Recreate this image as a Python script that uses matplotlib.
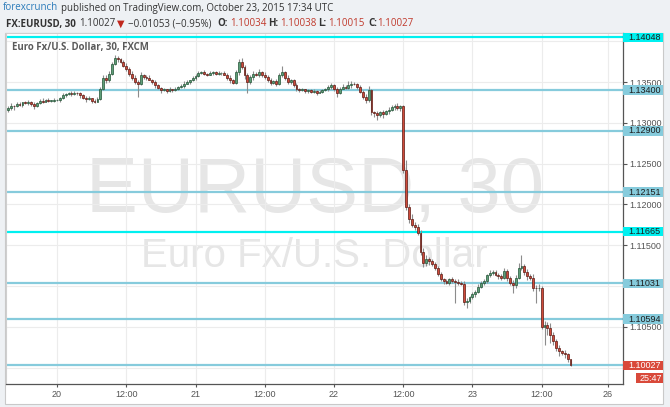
import matplotlib
matplotlib.use("Agg")
import matplotlib.pyplot as plt
from matplotlib.patches import Rectangle
from matplotlib.transforms import blended_transform_factory
import numpy as np

# ===============================
# Data: EURUSD 30 min candles, 19 Oct 15:30 -> 23 Oct 17:30 UTC
# x position = bar number counted from 20 Oct 00:00
# ===============================
bar_start = -17
first_open = 1.1316

closes = [
    1.1318, 1.1321, 1.1320, 1.1323, 1.1322, 1.1325, 1.1324, 1.1326, 1.1323,
    1.1321, 1.1324, 1.1327, 1.1326, 1.1328, 1.1327, 1.1327, 1.1328,
    1.1328, 1.1330, 1.1334, 1.1335, 1.1336, 1.1335, 1.1337, 1.1336, 1.1334,
    1.1331, 1.1329, 1.1330, 1.1327, 1.1326, 1.1329,
    1.1342, 1.1355, 1.1352, 1.1360,
    1.1372, 1.1380, 1.1378, 1.1375,
    1.1370, 1.1366, 1.1360, 1.1355,
    1.1350, 1.1348, 1.1358,
    1.1356, 1.1355, 1.1353, 1.1350, 1.1346,
    1.1343, 1.1340, 1.1341, 1.1339, 1.1341, 1.1340, 1.1342,
    1.1344, 1.1345, 1.1348, 1.1350, 1.1352, 1.1355, 1.1357, 1.1361,
    1.1362, 1.1360, 1.1359, 1.1361, 1.1362, 1.1360, 1.1361, 1.1361, 1.1359,
    1.1355, 1.1352, 1.1349,
    1.1362, 1.1375, 1.1368, 1.1358,
    1.1350,
    1.1356, 1.1360, 1.1358, 1.1362, 1.1359, 1.1356,
    1.1352, 1.1349, 1.1351, 1.1348,
    1.1358, 1.1362,
    1.1355, 1.1350, 1.1352, 1.1346, 1.1342,
    1.1340, 1.1341, 1.1339, 1.1340, 1.1338, 1.1339, 1.1337, 1.1338, 1.1340, 1.1341,
    1.1344, 1.1346, 1.1342, 1.1337,
    1.1342, 1.1344, 1.1343, 1.1346, 1.1348, 1.1347, 1.1344,
    1.1338, 1.1332, 1.1328, 1.1340,
    1.1313,
    1.1312, 1.1310, 1.1313, 1.1311, 1.1314, 1.1316,
    1.1319, 1.1321, 1.1318, 1.1320,
    # 22 Oct 12:00, ECB
    1.1242, 1.1197, 1.1182, 1.1175, 1.1172, 1.1165, 1.1142, 1.1128, 1.1133, 1.1130,
    1.1127, 1.1122, 1.1115, 1.1108, 1.1106, 1.1104, 1.1108, 1.1106, 1.1105, 1.1104,
    1.1103, 1.1080, 1.1082, 1.1086, 1.1090, 1.1093, 1.1099, 1.1104, 1.1106, 1.1113,
    1.1116, 1.1117, 1.1114, 1.1112, 1.1110, 1.1118, 1.1110, 1.1104, 1.1101, 1.1110,
    1.1122, 1.1124, 1.1117, 1.1112, 1.1110, 1.1098, 1.1097, 1.1098, 1.1050, 1.1052,
    1.1048, 1.1040, 1.1033, 1.1024, 1.1020, 1.1018, 1.1016, 1.1010, 1.10027,
]

# wick lengths beyond the body, in pips
wick_up = [
    2, 3, 1, 2, 3, 1, 2, 2, 1,
    2, 1, 2, 3, 1, 2, 1, 2,
    1, 2, 3, 1, 2, 3, 2, 1, 2,
    1, 2, 3, 1, 2, 3,
    2, 3, 4, 3,
    3, 3, 2, 2,
    2, 3, 2, 3,
    3, 2, 4,
    2, 2, 3, 1, 2,
    2, 1, 2, 1, 3, 1, 2,
    1, 2, 3, 2, 1, 2, 3, 2,
    2, 3, 1, 2, 2, 1, 2, 1, 2,
    2, 3, 2,
    3, 3, 4, 3,
    3,
    2, 3, 2, 4, 2, 3,
    2, 3, 2, 3,
    3, 8,
    2, 3, 2, 2, 3,
    1, 2, 1, 2, 1, 2, 1, 2, 1, 2,
    2, 3, 2, 2,
    2, 4, 2, 5, 3, 2, 2,
    2, 2, 3, 5,
    2,
    2, 3, 2, 3, 2, 3,
    3, 2, 3, 2,
    2, 12, 4, 6, 3, 4, 3, 4, 5, 3,
    3, 2, 3, 2, 2, 3, 2, 3, 2, 3,
    2, 3, 3, 2, 3, 2, 3, 2, 3, 2,
    4, 2, 3, 2, 3, 4, 3, 2, 3, 4,
    6, 14, 3, 4, 3, 5, 3, 4, 2, 5,
    4, 6, 3, 2, 4, 2, 3, 2, 1,
]
wick_dn = [
    3, 2, 4, 1, 2, 3, 1, 2, 3,
    4, 2, 1, 2, 1, 2, 1, 2,
    1, 2, 1, 2, 1, 2, 1, 2, 3,
    2, 3, 1, 3, 2, 1,
    1, 2, 3, 2,
    2, 1, 3, 2,
    2, 2, 3, 2,
    3, 16, 2,
    2, 3, 1, 2, 3,
    2, 3, 1, 2, 1, 2, 1,
    2, 1, 2, 1, 2, 1, 2, 1,
    1, 2, 2, 1, 2, 1, 1, 2, 1,
    2, 3, 2,
    2, 3, 2, 4,
    13,
    2, 3, 1, 2, 3, 2,
    2, 3, 2, 3,
    2, 2,
    2, 3, 2, 2, 3,
    2, 1, 2, 3, 1, 2, 3, 1, 2, 1,
    2, 2, 3, 5,
    2, 1, 2, 2, 3, 1, 2,
    2, 3, 4, 2,
    3,
    5, 6, 3, 5, 2, 3,
    2, 3, 2, 3,
    3, 4, 5, 3, 4, 3, 4, 5, 3, 4,
    3, 2, 3, 2, 3, 2, 3, 2, 26, 3,
    2, 3, 7, 3, 2, 3, 2, 2, 3, 2,
    2, 3, 2, 3, 3, 2, 4, 3, 10, 3,
    2, 3, 4, 5, 3, 4, 18, 3, 3, 22,
    8, 10, 5, 4, 6, 3, 4, 3, 1,
]

levels_blue = [1.13400, 1.12900, 1.12151, 1.11031, 1.10594, 1.10027]
levels_cyan = [1.14048, 1.11665]
last_price = 1.10027
countdown = "25:47"

price_ticks = [1.100, 1.105, 1.110, 1.115, 1.120, 1.125, 1.130, 1.135, 1.140]
# these scale labels sit fully under a level box in the reference
hidden_ticks = [1.100, 1.110, 1.140]
time_ticks = [0, 24, 48, 72, 96, 120, 144, 168, 191]
time_labels = ["20", "12:00", "21", "12:00", "22", "12:00", "23", "12:00", "26"]

# ===============================
# Style
# ===============================
W, H = 670, 407
BG = "#eef1f4"
UP_FILL, UP_EDGE = "#5f9e78", "#225437"
DN_FILL, DN_EDGE = "#cf4a3a", "#5b1a13"
WICK = "#8c8c8c"
LEVEL_BLUE = "#86cbdc"
CYAN = "#00f0f0"
RED = "#d9493a"
TXT = "#333333"
AXIS_TXT = "#555555"

fig = plt.figure(figsize=(W / 100, H / 100), dpi=100, facecolor=BG)

# white chart container (plot + both scales)
fig.add_artist(Rectangle((5 / W, 1 - 404 / H), 658 / W, 371 / H,
                         transform=fig.transFigure, facecolor="white",
                         edgecolor="#c9c9c9", lw=0.8, zorder=-1))

ax_left, ax_right, ax_top, ax_bot = 6, 623, 33, 384
ax = fig.add_axes([ax_left / W, 1 - ax_bot / H,
                   (ax_right - ax_left) / W, (ax_bot - ax_top) / H])
ax.set_facecolor("white")

ax.set_xlim(-17.7, 196.2)
ax.set_ylim(1.09798, 1.14101)

# ---- candles ----
idx = np.arange(bar_start, bar_start + len(closes))
c = np.array(closes)
o = np.concatenate([[first_open], c[:-1]])
top = np.maximum(o, c)
bot = np.minimum(o, c)
hi = top + np.array(wick_up) * 1e-4
lo = bot - np.array(wick_dn) * 1e-4
up = c >= o
height = np.maximum(top - bot, 0.00004)

ax.vlines(idx, lo, hi, color=WICK, lw=0.8, zorder=3)
ax.bar(idx[up], height[up], bottom=bot[up], width=0.65, color=UP_FILL,
       edgecolor=UP_EDGE, lw=0.5, zorder=4)
ax.bar(idx[~up], height[~up], bottom=bot[~up], width=0.65, color=DN_FILL,
       edgecolor=DN_EDGE, lw=0.5, zorder=4)

# ---- horizontal levels ----
for lvl in levels_blue:
    ax.axhline(lvl, color=LEVEL_BLUE, lw=1.6, zorder=2)
for lvl in levels_cyan:
    ax.axhline(lvl, color=CYAN, lw=1.6, zorder=2)

# ---- watermark ----
ax.text(0.5, 0.49, "EURUSD, 30", transform=ax.transAxes, ha="center",
        va="baseline", fontsize=56, color="#e6e6e6", family="Liberation Sans",
        zorder=0.5)
ax.text(0.5, 0.333, "Euro Fx/U.S. Dollar", transform=ax.transAxes, ha="center",
        va="baseline", fontsize=29, color="#e6e6e6", family="Liberation Sans",
        zorder=0.5)

# ---- axes, ticks, grid ----
ax.yaxis.tick_right()
ax.set_yticks(price_ticks)
ax.set_yticklabels(["" if p in hidden_ticks else f"{p:.5f}" for p in price_ticks])
ax.set_xticks(time_ticks)
ax.set_xticklabels(time_labels)
ax.tick_params(axis="y", length=3, width=0.8, color="#555555",
               labelcolor=AXIS_TXT, labelsize=6.5, pad=1.5)
ax.tick_params(axis="x", length=2.5, width=0.8, color="#555555",
               labelcolor=AXIS_TXT, labelsize=6.5, pad=1.5)
for lab in ax.get_xticklabels() + ax.get_yticklabels():
    lab.set_family("Liberation Sans")
ax.grid(True, color="#ececec", lw=0.8, zorder=0)
ax.set_axisbelow(True)

for side in ["right", "bottom"]:
    ax.spines[side].set_color("#555555")
    ax.spines[side].set_linewidth(0.9)
for side in ["left", "top"]:
    ax.spines[side].set_color("#cfcfcf")
    ax.spines[side].set_linewidth(0.8)

# ---- price labels on the scale ----
blend = blended_transform_factory(ax.transAxes, ax.transData)
px_w = 1 / (ax_right - ax_left)
px_h = (1.14101 - 1.09798) / (ax_bot - ax_top)


def price_box(value, text, face, color, x0_px=623, x1_px=663, h_px=9.5):
    x0 = (x0_px - ax_left) * px_w
    w = (x1_px - x0_px) * px_w
    ax.add_patch(Rectangle((x0, value - h_px * px_h / 2), w, h_px * px_h,
                           transform=blend, facecolor=face, edgecolor="none",
                           clip_on=False, zorder=5))
    ax.text(x0 + w / 2 + 1.5 * px_w, value, text, transform=blend, ha="center",
            va="center", fontsize=6.5, color=color, family="Liberation Sans",
            clip_on=False, zorder=6)


for lvl in levels_blue[:-1]:
    price_box(lvl, f"{lvl:.5f}", LEVEL_BLUE, "#1e1e1e")
for lvl in levels_cyan:
    price_box(lvl, f"{lvl:.5f}", CYAN, "#1e1e1e")
price_box(last_price, f"{last_price:.5f}", RED, "white")
price_box(1.09871, countdown, RED, "white", x0_px=636, h_px=10)

# ===============================
# Header text
# ===============================
HEAD = "Open Sans"


def put(x_px, y_px, s, **kw):
    kw.setdefault("family", HEAD)
    kw.setdefault("fontsize", 7)
    kw.setdefault("color", TXT)
    fig.text(x_px / W, 1 - y_px / H, s, ha="left", va="center", **kw)


put(3, 8, "forexcrunch", color="#2a7ab9")
put(61, 8, "published on TradingView.com, October 23, 2015 17:34 UTC")

put(6, 24, "FX:EURUSD, 30", weight="bold")
put(79, 24, "1.10027")
put(117, 24, "\u25bc", color="#c0281e", family="DejaVu Sans")
put(128, 24, "\u22120.01053 (\u22120.95%)")
put(217, 24, "O:", weight="bold")
put(230, 24, "1.10034", color="#c0392b")
put(268, 24, "H:", weight="bold")
put(280, 24, "1.10038", color="#c0392b")
put(318, 24, "L:", weight="bold")
put(328, 24, "1.10015", color="#c0392b")
put(368, 24, "C:", weight="bold")
put(377, 24, "1.10027", color="#c0392b")

put(12, 47.5, "Euro Fx/U.S. Dollar, 30, FXCM", color="#5a5a5a", weight="bold",
    fontsize=6.9)

fig.savefig("out.png", dpi=100, facecolor=BG)
